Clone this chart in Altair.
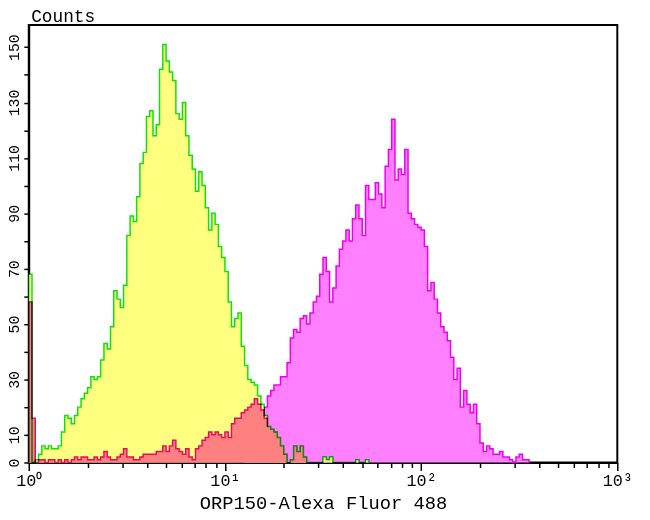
import altair as alt
import pandas as pd

CH_PER_DECADE = 60  # histogram channels per decade of fluorescence

# Isotype control (yellow fill, green outline), counts per channel from channel 0
A_START = 0
A_COUNTS = [68, 0, 1, 3, 6, 5, 6, 5, 5, 6,
            11, 17, 16, 14, 17, 20, 23, 25, 27, 31,
            30, 31, 37, 43, 41, 49, 62, 59, 56, 64,
            82, 89, 87, 96, 108, 112, 125, 127, 118, 122,
            142, 151, 145, 141, 138, 126, 124, 130, 118, 111,
            106, 98, 105, 100, 92, 84, 90, 86, 78, 74,
            69, 58, 49, 52, 54, 42, 35, 30, 29, 28,
            24, 21, 17, 13, 12, 11, 9, 6, 3, 0,
            1, 6, 4, 6, 2, 0, 0, 0, 0, 0,
            2, 1, 2, 0, 0, 0, 0, 0, 0, 0,
            1, 0, 0, 1]

# Unstained control (red/salmon), counts per channel from channel 0
B_START = 0
B_COUNTS = [58, 16, 0, 1, 1, 0, 1, 1, 0, 1,
            0, 1, 0, 1, 2, 1, 2, 2, 1, 1,
            2, 1, 2, 4, 2, 1, 1, 2, 3, 5,
            2, 2, 1, 1, 2, 3, 3, 3, 3, 4,
            4, 6, 4, 6, 8, 5, 4, 3, 5, 2,
            1, 5, 6, 8, 9, 11, 10, 11, 10, 9,
            11, 9, 14, 16, 16, 18, 19, 20, 21, 23,
            21, 19, 16, 13, 12, 11, 9, 6, 3, 0,
            1, 6, 4, 6, 2]
B_OUTLINE_LAST = 73  # last channel of B's own (red) outline

# ORP150 stained sample (magenta), counts per channel from channel 66
C_START = 66
C_COUNTS = [2, 5, 8, 11, 14, 17, 20, 24, 26, 28,
            28, 31, 31, 36, 45, 48, 47, 52, 53, 50,
            54, 58, 60, 68, 74, 69, 58, 63, 71, 77,
            80, 84, 80, 88, 93, 88, 82, 100, 95, 95,
            101, 97, 92, 107, 113, 124, 102, 106, 104, 113,
            90, 88, 86, 85, 84, 78, 62, 65, 59, 54,
            49, 47, 44, 38, 30, 34, 20, 26, 21, 18,
            21, 14, 7, 4, 6, 5, 3, 3, 4, 2,
            2, 1, 0, 2, 3, 1, 1]

X_TICKS = [1, 2, 3, 4, 5, 6, 7, 8, 9,
           10, 20, 30, 40, 50, 60, 70, 80, 90,
           100, 200, 300, 400, 500, 600, 700, 800, 900, 1000]
Y_TICKS = list(range(0, 151, 10))

FONT = "Liberation Mono"


def area_rows(start, counts):
    rows = [{"x": 10 ** ((start + k) / CH_PER_DECADE), "n": v}
            for k, v in enumerate(counts)]
    rows.append({"x": 10 ** ((start + len(counts)) / CH_PER_DECADE), "n": 0})
    return pd.DataFrame(rows)


def line_rows(start, counts, last=None):
    pts = [{"x": 10 ** (start / CH_PER_DECADE), "n": 0}]
    for k, v in enumerate(counts):
        ch = start + k
        if last is not None and ch > last:
            break
        pts.append({"x": 10 ** (ch / CH_PER_DECADE), "n": v})
    if last is None:
        pts.append({"x": 10 ** ((start + len(counts)) / CH_PER_DECADE), "n": 0})
    for j, p in enumerate(pts):
        p["i"] = j
    return pd.DataFrame(pts)


xscale = alt.Scale(type="log", domain=[1, 1000], nice=False)
yscale = alt.Scale(domain=[0, 158], nice=False)

xaxis = alt.Axis(
    values=X_TICKS,
    labelExpr="datum.value == 1 ? '10⁰' : datum.value == 10 ? '10¹' : "
              "datum.value == 100 ? '10²' : datum.value == 1000 ? '10³' : ''",
    title="ORP150-Alexa Fluor 488",
    grid=False, domainColor="black", domainWidth=2,
    tickColor="black", tickWidth=1.5,
    tickSize={"condition": {"test": "datum.value == 1 || datum.value == 10 || datum.value == 100 || datum.value == 1000",
                            "value": 8}, "value": 5},
    labelFont=FONT, labelFontSize=17, labelColor="black",
    labelFlush=False, labelOverlap=False, labelPadding=2,
    titleFont=FONT, titleFontSize=19, titleFontWeight="normal", titleColor="black",
    titlePadding=6,
)

yaxis = alt.Axis(
    values=Y_TICKS,
    labelExpr="datum.value == 0 || (datum.value / 10) % 2 == 1 ? datum.label : ''",
    title="Counts", titleAngle=0, titleX=2, titleY=-4,
    titleAlign="left", titleBaseline="alphabetic",
    titleFont=FONT, titleFontSize=18, titleFontWeight="normal", titleColor="black",
    grid=False, domainColor="black", domainWidth=2,
    tickColor="black", tickWidth=1.5, tickSize=5,
    labelAngle=-90, labelAlign="center", labelBaseline="alphabetic",
    labelFont=FONT, labelFontSize=15, labelColor="black", labelPadding=5,
    labelOverlap=False,
)


def area(df, color):
    return alt.Chart(df).mark_area(
        interpolate="step-after", fill=color, fillOpacity=1, strokeWidth=0
    ).encode(
        x=alt.X("x:Q", scale=xscale, axis=xaxis),
        y=alt.Y("n:Q", scale=yscale, axis=yaxis, stack=None),
    )


def line(df, color, **kw):
    return alt.Chart(df).mark_line(
        interpolate="step-after", color=color, strokeWidth=1.5, **kw
    ).encode(
        x=alt.X("x:Q", scale=xscale, axis=xaxis),
        y=alt.Y("n:Q", scale=yscale, axis=yaxis),
        order=alt.Order("i:Q"),
    )


c_area = area(area_rows(C_START, C_COUNTS), "#FF80FF")
c_line = line(line_rows(C_START, C_COUNTS), "#EE00EE")
a_area = area(area_rows(A_START, A_COUNTS), "#FFFF80")
b_area = area(area_rows(B_START, B_COUNTS), "#FF8080")
b_line = line(line_rows(B_START, B_COUNTS, last=B_OUTLINE_LAST), "#E0105A")
a_line = line(line_rows(A_START, A_COUNTS), "#10E010", blend="multiply")

chart = alt.layer(c_area, c_line, a_area, b_area, b_line, a_line).properties(
    width=596, height=443,
    padding={"left": 21, "top": 14, "right": 25, "bottom": 55},
    autosize=alt.AutoSizeParams(type="none"),
    background="white",
).configure_view(stroke="black", strokeWidth=2)

chart.save("out.html", embed_options={"renderer": "svg", "actions": False})
